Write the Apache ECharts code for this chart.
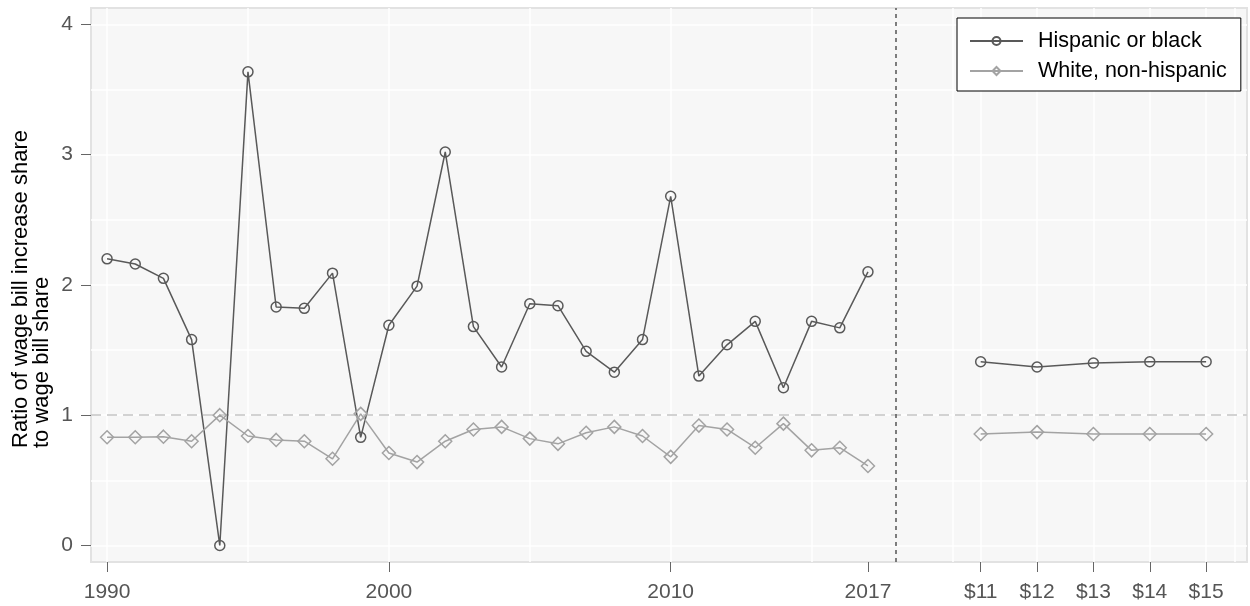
<!DOCTYPE html>
<html>
<head>
<meta charset="utf-8">
<script src="https://cdn.jsdelivr.net/npm/echarts@6/dist/echarts.min.js"></script>
<style>
html,body{margin:0;padding:0;background:#fff;}
#chart{width:1250px;height:606px;}
</style>
</head>
<body>
<div id="chart"></div>
<script>
// ---- data ----
var years = [1990,1991,1992,1993,1994,1995,1996,1997,1998,1999,2000,2001,2002,2003,2004,2005,2006,2007,2008,2009,2010,2011,2012,2013,2014,2015,2016,2017];
var hispanicBlack = [2.20,2.16,2.05,1.58,0.00,3.635,1.83,1.82,2.09,0.83,1.69,1.99,3.02,1.68,1.37,1.855,1.84,1.49,1.33,1.58,2.68,1.30,1.54,1.72,1.21,1.72,1.67,2.10];
var whiteNonHispanic = [0.83,0.83,0.835,0.80,1.00,0.84,0.81,0.80,0.665,1.01,0.71,0.64,0.80,0.89,0.91,0.82,0.78,0.865,0.91,0.84,0.68,0.92,0.89,0.75,0.935,0.73,0.75,0.61];
var wageLabels = ['$11','$12','$13','$14','$15'];
var hispanicBlackWage = [1.41,1.37,1.40,1.41,1.41];
var whiteNonHispanicWage = [0.855,0.87,0.855,0.855,0.855];
var yearTickLabels = [1990,2000,2010,2017];
var yTickLabels = [0,1,2,3,4];
var seriesNames = ['Hispanic or black','White, non-hispanic'];
var referenceLine = 1;

// ---- layout mapping of wage scenarios onto the x scale ----
var wageStart = 2021, wageStep = 2, dividerX = 2018;
var wagePos = wageLabels.map(function(_, i){ return wageStart + i * wageStep; });
var labelMap = {};
yearTickLabels.forEach(function(y){ labelMap[y] = String(y); });
wagePos.forEach(function(p, i){ labelMap[p] = wageLabels[i]; });
var xTickValues = yearTickLabels.concat(wagePos);

function pairs(xs, ys){ return xs.map(function(x, i){ return [x, ys[i]]; }); }

// grid lines
var vGrid = [];
for (var g = 1990; g <= 2030; g += 5) vGrid.push(g);
wagePos.forEach(function(p){ if (vGrid.indexOf(p) < 0) vGrid.push(p); });
var hGrid = [];
for (var h = 0; h <= 8; h++) hGrid.push(h * 0.5);

var dark = '#595959', light = '#a3a3a3';
var font = 'Liberation Sans, Arial, Helvetica, sans-serif';

function hisp(name, data){
  return {
    type: 'line', name: name, data: data, z: 3,
    symbol: 'circle', symbolSize: 10,
    lineStyle: {color: dark, width: 1.5},
    itemStyle: {color: 'rgba(247,247,247,0)', borderColor: dark, borderWidth: 1.5},
    animation: false, silent: true
  };
}
function white(name, data){
  return {
    type: 'line', name: name, data: data, z: 3,
    symbol: 'diamond', symbolSize: [13,13],
    lineStyle: {color: light, width: 1.5},
    itemStyle: {color: 'rgba(247,247,247,0)', borderColor: light, borderWidth: 1.5},
    animation: false, silent: true
  };
}

var chart = echarts.init(document.getElementById('chart'), null, {renderer: 'canvas'});
var option = {
  backgroundColor: '#ffffff',
  animation: false,
  textStyle: {fontFamily: font},
  grid: {
    left: 91, top: 8, right: 3, bottom: 44,
    show: true, backgroundColor: '#f7f7f7', borderColor: '#e2e2e2', borderWidth: 2,
    containLabel: false
  },
  graphic: [{
    type: 'text', x: 10, y: 448, rotation: Math.PI / 2,
    style: {
      text: 'Ratio of wage bill increase share\nto wage bill share',
      font: '22px ' + font, fill: '#000', textAlign: 'left', textVerticalAlign: 'top',
      lineHeight: 21
    }
  }],
  legend: {
    data: seriesNames,
    orient: 'vertical',
    left: 957, top: 18,
    backgroundColor: '#ffffff', borderColor: '#000000', borderWidth: 1, borderRadius: 0,
    padding: [11, 14, 8, 12],
    itemWidth: 53, itemHeight: 10, itemGap: 6,
    textStyle: {fontSize: 21.5, color: '#000', fontFamily: font, lineHeight: 24, padding: [0,0,0,10]},
    selectedMode: false
  },
  xAxis: {
    type: 'value', min: 1989.43, max: 2030.45,
    axisLine: {show: false, onZero: false},
    splitLine: {show: false},
    axisTick: {show: true, inside: false, customValues: xTickValues, length: 10, lineStyle: {color: '#666', width: 1}},
    axisLabel: {
      show: true, customValues: xTickValues, margin: 20,
      fontSize: 21, color: '#555', fontFamily: font,
      formatter: function(v){ return labelMap[v] !== undefined ? labelMap[v] : ''; }
    }
  },
  yAxis: {
    type: 'value', min: -0.127, max: 4.125,
    axisLine: {show: false, onZero: false},
    splitLine: {show: false},
    axisTick: {show: true, inside: false, customValues: yTickLabels, length: 10, lineStyle: {color: '#666', width: 1}},
    axisLabel: {
      show: true, customValues: yTickLabels, margin: 18,
      fontSize: 21, color: '#555', fontFamily: font
    }
  },
  series: [
    {
      type: 'line', name: '_grid', data: [], z: 1, silent: true,
      markLine: {
        silent: true, symbol: ['none','none'], label: {show: false}, z: 1, animation: false,
        lineStyle: {color: '#ffffff', width: 1.5, type: 'solid'},
        data: vGrid.map(function(v){ return {xAxis: v}; }).concat(hGrid.map(function(v){ return {yAxis: v}; }))
      }
    },
    {
      type: 'line', name: '_ref', data: [], z: 2, silent: true,
      markLine: {
        silent: true, symbol: ['none','none'], label: {show: false}, z: 2, animation: false,
        data: [
          {yAxis: referenceLine, lineStyle: {color: '#c4c4c4', width: 1.5, type: [10,6]}},
          {xAxis: dividerX, lineStyle: {color: '#555555', width: 1.5, type: [4,4]}}
        ]
      }
    },
    hisp(seriesNames[0], pairs(years, hispanicBlack)),
    white(seriesNames[1], pairs(years, whiteNonHispanic)),
    hisp(seriesNames[0], pairs(wagePos, hispanicBlackWage)),
    white(seriesNames[1], pairs(wagePos, whiteNonHispanicWage))
  ]
};
chart.setOption(option);
</script>
</body>
</html>
